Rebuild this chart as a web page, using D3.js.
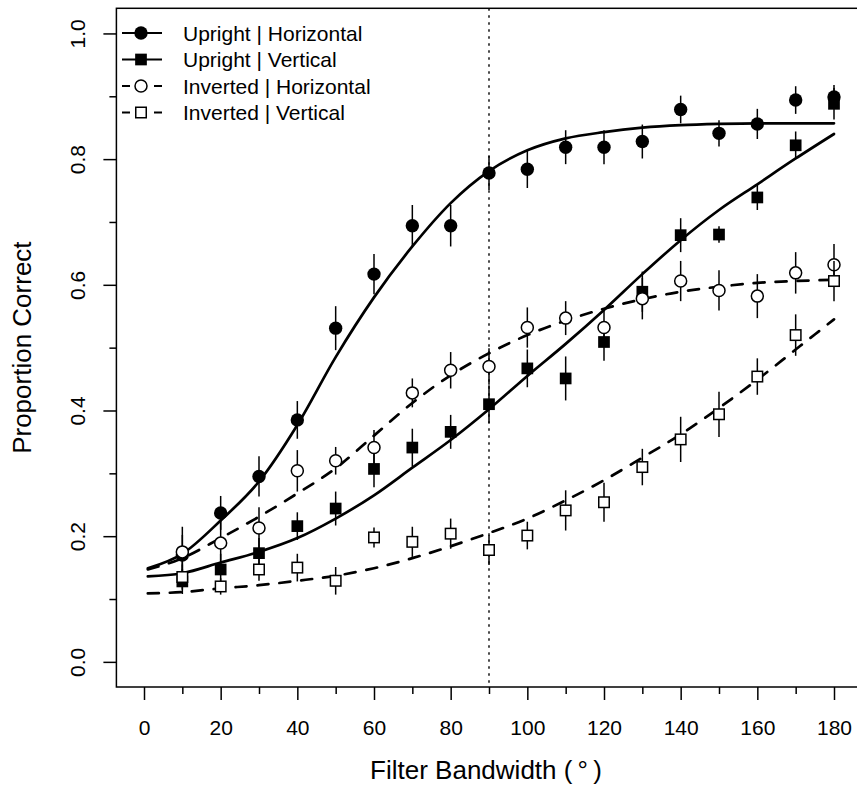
<!DOCTYPE html>
<html>
<head>
<meta charset="utf-8">
<script src="https://cdn.jsdelivr.net/npm/d3@7"></script>
<style>
  body { margin: 0; background: #fff; }
  svg text { font-family: "Liberation Sans", Arial, Helvetica, sans-serif; fill: #000; }
</style>
</head>
<body>
<div id="chart"></div>
<script>
// ****************************************************
// data
var bandwidth = [10, 20, 30, 40, 50, 60, 70, 80, 90, 100, 110, 120, 130, 140, 150, 160, 170, 180];

var uprightHoriz    = [0.170, 0.237, 0.295, 0.385, 0.531, 0.617, 0.694, 0.694, 0.778, 0.784, 0.819, 0.819, 0.828, 0.879, 0.841, 0.856, 0.894, 0.899];
var uprightHorizErr = [0.032, 0.027, 0.032, 0.030, 0.035, 0.032, 0.033, 0.033, 0.027, 0.030, 0.027, 0.027, 0.027, 0.022, 0.021, 0.024, 0.022, 0.019];

var uprightVert     = [0.128, 0.147, 0.173, 0.216, 0.244, 0.307, 0.341, 0.366, 0.410, 0.467, 0.451, 0.509, 0.589, 0.679, 0.680, 0.739, 0.822, 0.888];
var uprightVertErr  = [0.020, 0.025, 0.024, 0.022, 0.027, 0.029, 0.030, 0.027, 0.030, 0.030, 0.035, 0.030, 0.032, 0.027, 0.013, 0.020, 0.022, 0.025];

var invertedHoriz    = [0.175, 0.189, 0.213, 0.304, 0.320, 0.341, 0.428, 0.464, 0.470, 0.532, 0.547, 0.532, 0.578, 0.606, 0.591, 0.582, 0.619, 0.632];
var invertedHorizErr = [0.040, 0.035, 0.033, 0.033, 0.022, 0.028, 0.023, 0.029, 0.029, 0.032, 0.027, 0.030, 0.033, 0.032, 0.032, 0.035, 0.033, 0.033];

var invertedVert    = [0.135, 0.120, 0.147, 0.150, 0.129, 0.198, 0.191, 0.204, 0.178, 0.201, 0.241, 0.254, 0.310, 0.354, 0.394, 0.454, 0.520, 0.606];
var invertedVertErr = [0.020, 0.013, 0.018, 0.022, 0.022, 0.016, 0.024, 0.024, 0.024, 0.022, 0.032, 0.031, 0.029, 0.036, 0.036, 0.029, 0.033, 0.032];

// fitted curves, read at these bandwidths
var curveX = [1, 10, 20, 30, 40, 50, 60, 70, 80, 90, 100, 110, 120, 130, 140, 150, 160, 170, 180];
var fitUprightHoriz  = [0.149, 0.172, 0.225, 0.287, 0.377, 0.485, 0.580, 0.661, 0.730, 0.781, 0.814, 0.833, 0.843, 0.850, 0.854, 0.856, 0.857, 0.857, 0.857];
var fitUprightVert   = [0.136, 0.141, 0.158, 0.175, 0.197, 0.228, 0.265, 0.309, 0.353, 0.402, 0.455, 0.506, 0.560, 0.617, 0.671, 0.719, 0.760, 0.801, 0.840];
var fitInvertedHoriz = [0.147, 0.165, 0.197, 0.231, 0.268, 0.308, 0.360, 0.412, 0.456, 0.491, 0.520, 0.543, 0.562, 0.577, 0.589, 0.597, 0.603, 0.606, 0.608];
var fitInvertedVert  = [0.109, 0.111, 0.117, 0.122, 0.129, 0.137, 0.149, 0.165, 0.184, 0.205, 0.228, 0.257, 0.289, 0.325, 0.362, 0.404, 0.449, 0.497, 0.545];

var xTicks = [0, 20, 40, 60, 80, 100, 120, 140, 160, 180];
var xMinorTicks = [10, 30, 50, 70, 90, 110, 130, 150, 170];
var yTicks = [0, 0.2, 0.4, 0.6, 0.8, 1.0];
var yMinorTicks = [0.1, 0.3, 0.5, 0.7, 0.9];
var referenceLine = 90;

var legendLabels = ["Upright | Horizontal", "Upright | Vertical", "Inverted | Horizontal", "Inverted | Vertical"];

// ****************************************************
// svg area
var svgWidth = 857;
var svgHeight = 788;

var svg = d3.select("#chart")
    .append("svg")
    .attr("width", svgWidth)
    .attr("height", svgHeight);

// R style: axis range padded by 4% each side
var xScale = d3.scaleLinear().domain([-7.2, 187.2]).range([116.4, 861.6]);
var yScale = d3.scaleLinear().domain([-0.04, 1.04]).range([687, 8.3]);

var boxLeft = xScale.range()[0], boxRight = xScale.range()[1];
var boxTop = yScale.range()[1], boxBottom = yScale.range()[0];

// ****************************************************
// axes
var xAxis = d3.axisBottom(xScale)
    .tickValues(xTicks)
    .tickSize(13)
    .tickSizeOuter(0)
    .tickPadding(20)
    .tickFormat(d3.format("d"));

var gx = svg.append("g")
    .attr("class", "xAxis")
    .attr("transform", `translate(0, ${boxBottom})`)
    .call(xAxis);
gx.select(".domain").remove();
gx.selectAll("line").attr("stroke", "#000").attr("stroke-width", 1.5);
gx.selectAll("text").attr("font-size", 21);

var gxMinor = svg.append("g")
    .attr("transform", `translate(0, ${boxBottom})`)
    .call(d3.axisBottom(xScale).tickValues(xMinorTicks).tickSize(7).tickSizeOuter(0).tickFormat(""));
gxMinor.select(".domain").remove();
gxMinor.selectAll("line").attr("stroke", "#000").attr("stroke-width", 1.5);

var yAxis = d3.axisLeft(yScale)
    .tickValues(yTicks)
    .tickSize(13)
    .tickSizeOuter(0)
    .tickFormat(d3.format(".1f"));

var gy = svg.append("g")
    .attr("class", "yAxis")
    .attr("transform", `translate(${boxLeft}, 0)`)
    .call(yAxis);
gy.select(".domain").remove();
gy.selectAll("line").attr("stroke", "#000").attr("stroke-width", 1.5);
// rotate the labels like base R (las = 0)
gy.selectAll("text")
    .attr("font-size", 21)
    .attr("transform", "rotate(-90)")
    .attr("x", 0)
    .attr("y", -(boxLeft - 85))
    .attr("dy", 0)
    .attr("text-anchor", "middle");

var gyMinor = svg.append("g")
    .attr("transform", `translate(${boxLeft}, 0)`)
    .call(d3.axisLeft(yScale).tickValues(yMinorTicks).tickSize(7).tickSizeOuter(0).tickFormat(""));
gyMinor.select(".domain").remove();
gyMinor.selectAll("line").attr("stroke", "#000").attr("stroke-width", 1.5);

// axis titles
svg.append("text")
    .attr("x", (boxLeft + boxRight) / 2 - 3)
    .attr("y", 779)
    .attr("text-anchor", "middle")
    .attr("font-size", 26)
    .text("Filter Bandwidth (\u2009\u00B0\u2009)");

svg.append("text")
    .attr("transform", `translate(31, ${(boxTop + boxBottom) / 2}) rotate(-90)`)
    .attr("text-anchor", "middle")
    .attr("font-size", 26)
    .text("Proportion Correct");

// ****************************************************
// reference line at 90 deg
svg.append("line")
    .attr("x1", xScale(referenceLine))
    .attr("x2", xScale(referenceLine))
    .attr("y1", boxTop)
    .attr("y2", boxBottom)
    .attr("stroke", "#000")
    .attr("stroke-width", 1.4)
    .attr("stroke-dasharray", "2.5,4.5");

// ****************************************************
// fitted curves
var line = d3.line()
    .x(function(d) { return xScale(d[0]); })
    .y(function(d) { return yScale(d[1]); })
    .curve(d3.curveMonotoneX);

var curves = [
  { y: fitUprightHoriz, dash: null },
  { y: fitUprightVert, dash: null },
  { y: fitInvertedHoriz, dash: "11,11" },
  { y: fitInvertedVert, dash: "11,11" }
];

curves.forEach(function(c) {
  svg.append("path")
      .datum(curveX.map(function(x, i) { return [x, c.y[i]]; }))
      .attr("d", line)
      .attr("fill", "none")
      .attr("stroke", "#000")
      .attr("stroke-width", 2.7)
      .attr("stroke-linecap", "round")
      .attr("stroke-dasharray", c.dash);
});

// ****************************************************
// points + error bars
var series = [
  { values: uprightHoriz, err: uprightHorizErr, shape: "circle", fill: "#000" },
  { values: uprightVert, err: uprightVertErr, shape: "square", fill: "#000" },
  { values: invertedHoriz, err: invertedHorizErr, shape: "circle", fill: "#fff" },
  { values: invertedVert, err: invertedVertErr, shape: "square", fill: "#fff" }
];

function drawMarker(g, shape, fill) {
  if (shape === "circle") {
    g.append("circle")
        .attr("r", fill === "#000" ? 6.7 : 6)
        .attr("fill", fill)
        .attr("stroke", "#000")
        .attr("stroke-width", fill === "#000" ? 0 : 1.5);
  } else {
    var s = fill === "#000" ? 11.7 : 10.5;
    g.append("rect")
        .attr("x", -s / 2)
        .attr("y", -s / 2)
        .attr("width", s)
        .attr("height", s)
        .attr("fill", fill)
        .attr("stroke", "#000")
        .attr("stroke-width", fill === "#000" ? 0 : 1.5);
  }
}

series.forEach(function(s) {
  var pts = bandwidth.map(function(x, i) { return { x: x, y: s.values[i], e: s.err[i] }; });
  var g = svg.append("g");

  g.selectAll("line.err")
      .data(pts)
      .enter()
      .append("line")
      .attr("class", "err")
      .attr("x1", function(d) { return xScale(d.x); })
      .attr("x2", function(d) { return xScale(d.x); })
      .attr("y1", function(d) { return yScale(d.y - d.e); })
      .attr("y2", function(d) { return yScale(d.y + d.e); })
      .attr("stroke", "#000")
      .attr("stroke-width", 1.5);

  g.selectAll("g.pt")
      .data(pts)
      .enter()
      .append("g")
      .attr("class", "pt")
      .attr("transform", function(d) { return `translate(${xScale(d.x)}, ${yScale(d.y)})`; })
      .each(function() { drawMarker(d3.select(this), s.shape, s.fill); });
});

// ****************************************************
// plot box
svg.append("rect")
    .attr("x", boxLeft)
    .attr("y", boxTop)
    .attr("width", boxRight - boxLeft)
    .attr("height", boxBottom - boxTop)
    .attr("fill", "none")
    .attr("stroke", "#000")
    .attr("stroke-width", 1.5);

// ****************************************************
// legend
var legend = svg.append("g").attr("class", "legend");
var legendRowY = [33, 59.5, 86, 112.5];

legendLabels.forEach(function(label, i) {
  var row = legend.append("g").attr("transform", `translate(0, ${legendRowY[i]})`);
  row.append("line")
      .attr("x1", 122)
      .attr("x2", 162)
      .attr("stroke", "#000")
      .attr("stroke-width", 2)
      .attr("stroke-dasharray", i < 2 ? null : "8,8");
  var m = row.append("g").attr("transform", "translate(141, 0)");
  drawMarker(m, series[i].shape, series[i].fill);
  row.append("text")
      .attr("x", 183)
      .attr("y", 7.5)
      .attr("font-size", 21)
      .text(label);
});
</script>
</body>
</html>
